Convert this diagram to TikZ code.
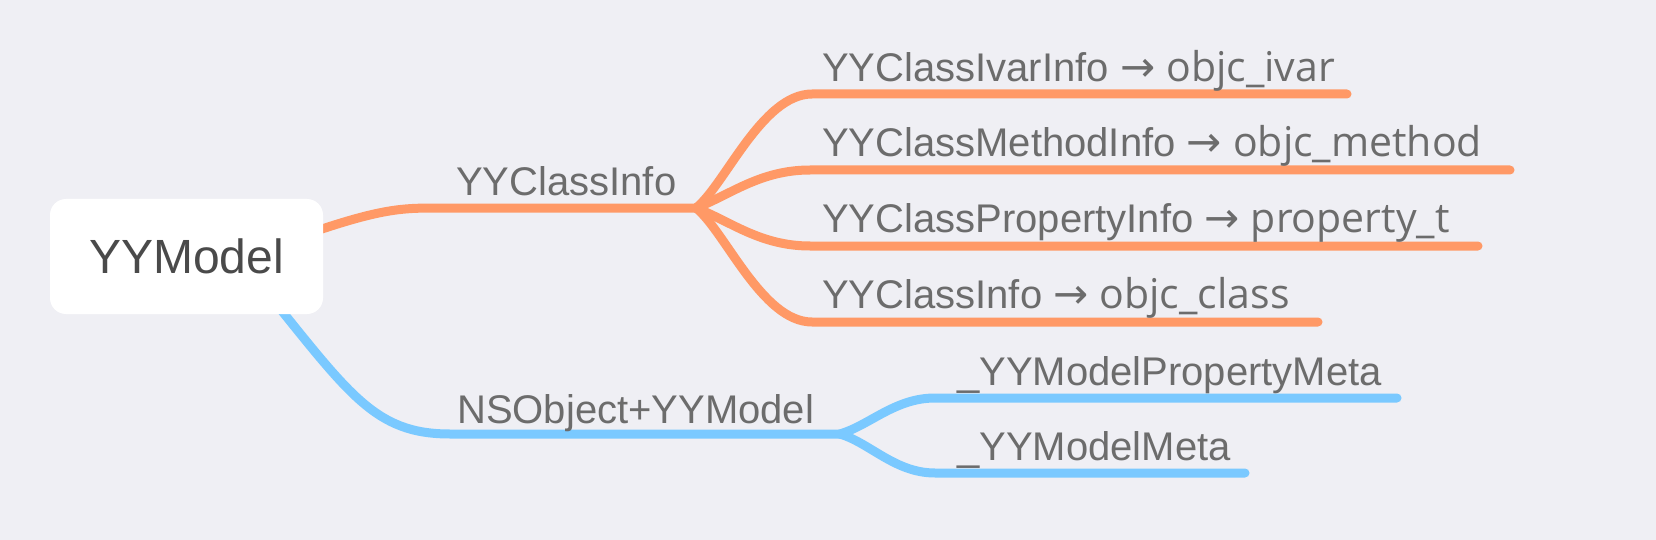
\documentclass[tikz,border=0pt]{standalone}
\usepackage{fontspec}
\setmainfont{Liberation Sans}
\newfontfamily\arrowfont{DejaVu Sans}
\newfontfamily\codefont{Open Sans}
\newcommand{\myarr}{{\arrowfont\fontsize{42}{48}\selectfont →}}
\newcommand{\code}[1]{{\codefont\fontsize{41}{48}\selectfont #1}}
\definecolor{bgc}{RGB}{239,239,244}
\definecolor{orangec}{RGB}{255,153,102}
\definecolor{bluec}{RGB}{122,201,255}
\definecolor{labelc}{RGB}{108,108,108}
\definecolor{rootc}{RGB}{74,74,74}
\begin{document}
\begin{tikzpicture}[x=1pt,y=-1pt,
  orangeline/.style={draw=orangec,line width=9pt,line cap=round,line join=round},
  blueline/.style={draw=bluec,line width=9pt,line cap=round,line join=round},
  lbl/.style={anchor=base west,inner sep=0pt,text=labelc,font=\fontsize{40}{48}\selectfont},
  rootbox/.style={fill=white,rounded corners=16pt,minimum width=273pt,minimum height=115pt,inner sep=0pt,text=rootc,font=\fontsize{48}{56}\selectfont}]
\useasboundingbox (0,0) rectangle (1656,540);
\fill[bgc] (0,0) rectangle (1656,540);

% orange branch
\coordinate (oS) at (290,240);
\coordinate (oH) at (440,208);
\coordinate (oF) at (696,208);
\draw[orangeline] (oS) .. controls (380,208) and (400,208) .. (oH) -- (oF);
\coordinate (o1s) at (812,94);  \coordinate (o1e) at (1347,94);
\coordinate (o2s) at (810,170); \coordinate (o2e) at (1510,170);
\coordinate (o3s) at (810,246); \coordinate (o3e) at (1478,246);
\coordinate (o4s) at (812,322); \coordinate (o4e) at (1318,322);
\draw[orangeline] (oF) .. controls (725,185) and (762,94) .. (o1s) -- (o1e);
\draw[orangeline] (oF) .. controls (730,195) and (760,170) .. (o2s) -- (o2e);
\draw[orangeline] (oF) .. controls (730,221) and (760,246) .. (o3s) -- (o3e);
\draw[orangeline] (oF) .. controls (725,231) and (762,322) .. (o4s) -- (o4e);

% blue branch
\coordinate (bS) at (265,290);
\coordinate (bH) at (450,434);
\coordinate (bF) at (840,434);
\draw[blueline] (bS) .. controls (350,395) and (375,434) .. (bH) -- (bF);
\coordinate (b1s) at (935,398); \coordinate (b1e) at (1397,398);
\coordinate (b2s) at (935,473); \coordinate (b2e) at (1245,473);
\draw[blueline] (bF) .. controls (870,425) and (895,398) .. (b1s) -- (b1e);
\draw[blueline] (bF) .. controls (870,443) and (895,473) .. (b2s) -- (b2e);

% root
\node[rootbox] (root) at (186.5,256.5) {YYModel};

% labels
\node[lbl] (l1) at (456,196) {YYClassInfo};
\node[lbl] (l2) at (457,423) {NSObject+YYModel};
\node[lbl] (l11) at (822,82) {YYClassIvarInfo \myarr{} \code{objc\_ivar}};
\node[lbl] (l12) at (822,157) {YYClassMethodInfo \myarr{} \code{objc\_method}};
\node[lbl] (l13) at (822,233) {YYClassPropertyInfo \myarr{} \code{property\_t}};
\node[lbl] (l14) at (822,308) {YYClassInfo \myarr{} \code{objc\_class}};
\node[lbl] (l21) at (957,385) {\_YYModelPropertyMeta};
\node[lbl] (l22) at (957,460) {\_YYModelMeta};
\end{tikzpicture}
\end{document}
